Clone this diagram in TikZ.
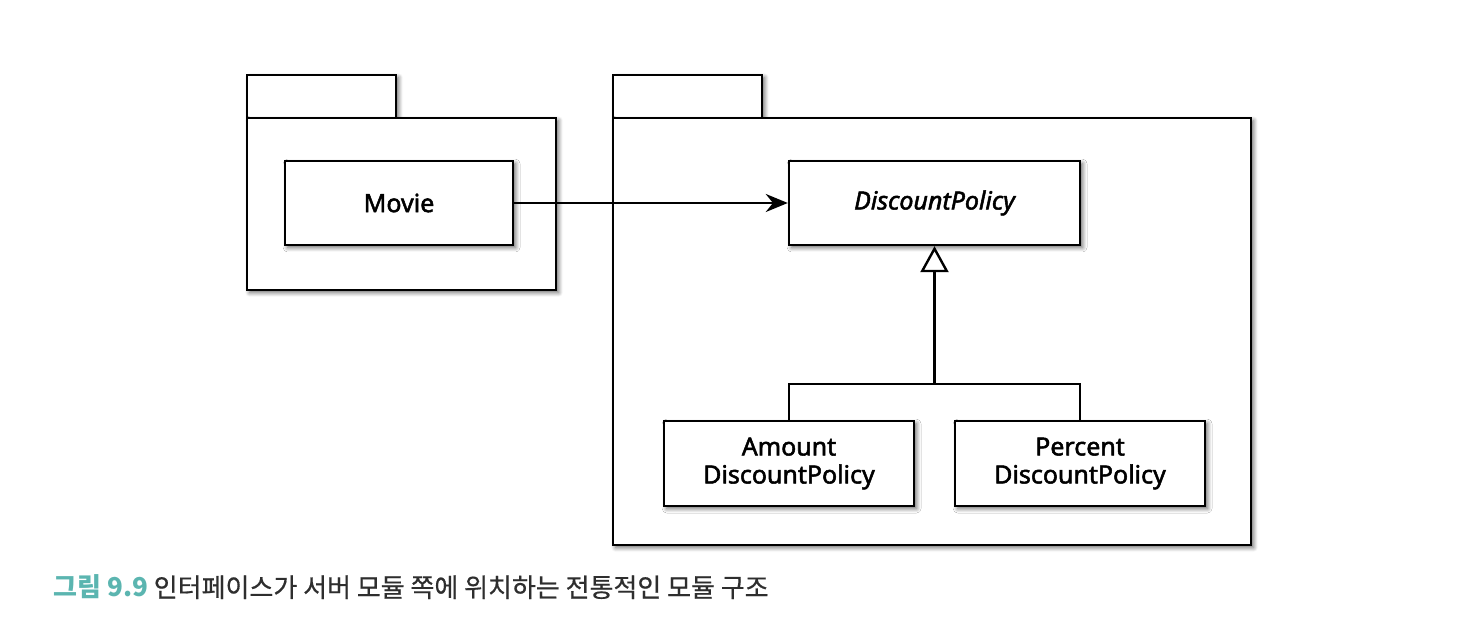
\documentclass[tikz,border=0pt]{standalone}
\usepackage{fontspec}
\setmainfont{Noto Sans}
\newfontfamily\lbl[FakeBold=2]{Noto Sans}
\newfontfamily\kr{Noto Sans CJK KR}
\newfontfamily\krb[FakeBold=0.6]{Noto Sans CJK KR}
\usetikzlibrary{shadows.blur,arrows.meta}
\definecolor{teal9}{HTML}{5BB5B0}
\definecolor{captxt}{HTML}{2E2E2E}
\tikzset{
  shd/.style={blur shadow={shadow blur steps=6, shadow xshift=1.3pt, shadow yshift=-1.3pt, shadow opacity=60, shadow blur radius=2.2pt}},
  pkg/.style={draw=black, line width=1.2pt, fill=white, shd},
  cls/.style={draw=black, line width=1.2pt, fill=white, shd, inner sep=0pt, align=center, font=\lbl\fontsize{12.5}{14}\selectfont},
  conn/.style={line width=1.2pt, draw=black},
}
\begin{document}
\begin{tikzpicture}[x=0.5pt,y=-0.5pt]
\useasboundingbox (0,0) rectangle (1468,624);
% left package
\node[pkg, minimum width=74.5pt, minimum height=21.5pt, inner sep=0pt] (ltab) at (321.5,96.5) {};
\node[pkg, minimum width=154.5pt, minimum height=86pt, inner sep=0pt] (lpkg) at (401.5,204) {};
% right package
\node[pkg, minimum width=74.5pt, minimum height=21.5pt, inner sep=0pt] (rtab) at (687.5,96.5) {};
\node[pkg, minimum width=319pt, minimum height=213.5pt, inner sep=0pt] (rpkg) at (932,331.5) {};
% classes
\node[cls, minimum width=114pt, minimum height=42pt] (movie) at (399,203) {Movie};
\node[cls, minimum width=145.5pt, minimum height=42pt, font=\lbl\fontsize{12.5}{14}\selectfont\itshape] (dp) at (934.5,203) {DiscountPolicy};
\node[cls, minimum width=125pt, minimum height=42.5pt] (amt) at (789,463.5) {\raisebox{-1.5pt}{Amount}\\\raisebox{-1.5pt}{DiscountPolicy}};
\node[cls, minimum width=125pt, minimum height=42.5pt] (pct) at (1080,463.5) {\raisebox{-1.5pt}{Percent}\\\raisebox{-1.5pt}{DiscountPolicy}};
% connectors
\draw[conn, -{Stealth[length=11pt,width=9pt]}] (movie.east) -- (dp.west);
\coordinate (j) at (934.5,384);
\draw[conn] (amt.north) |- (j) -| (pct.north);
\draw[conn, -{Triangle[open,length=13pt,width=14pt,fill=white]}] (j) -- (dp.south);
% caption
\node[anchor=base west, inner sep=0pt, font=\kr\fontsize{13}{15}\selectfont] (cap) at (53,597)
  {\textcolor{teal9}{\bfseries 그림 9.9}\ \textcolor{captxt}{\krb 인터페이스가 서버 모듈 쪽에 위치하는 전통적인 모듈 구조}};
\end{tikzpicture}
\end{document}
